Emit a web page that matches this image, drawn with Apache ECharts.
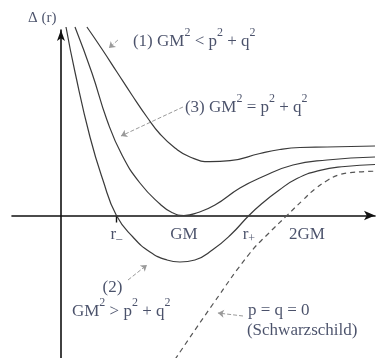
<!DOCTYPE html>
<html>
<head>
<meta charset="utf-8">
<script src="https://cdn.jsdelivr.net/npm/echarts@6/dist/echarts.min.js"></script>
<style>
  html, body { margin: 0; padding: 0; background: #fff; }
  #chart { width: 387px; height: 358px; }
</style>
</head>
<body>
<div id="chart"></div>
<script>
// Horizon function Δ(r); r in units of GM, Δ in arbitrary units.
const rMinus = 0.451;
const rPlus = 1.528;

// (1) GM² < p² + q² : no horizon
const curveNoHorizon = [
  [0.211, 1.885], [0.333, 1.665], [0.455, 1.435], [0.577, 1.205], [0.699, 0.985],
  [0.805, 0.815], [0.927, 0.675], [1.049, 0.585], [1.211, 0.538], [1.374, 0.548],
  [1.618, 0.62], [1.780, 0.66], [1.943, 0.68], [2.163, 0.685], [2.553, 0.695]
];
// (3) GM² = p² + q² : extremal, double root at GM
const curveExtremal = [
  [0.114, 1.885], [0.252, 1.425], [0.374, 0.955], [0.496, 0.605], [0.642, 0.325],
  [0.805, 0.115], [0.902, 0.03], [1.0, 0.0], [1.114, 0.03], [1.252, 0.105],
  [1.455, 0.275], [1.634, 0.385], [1.886, 0.505], [2.163, 0.555], [2.553, 0.585]
];
// (2) GM² > p² + q² : two horizons r− and r+
const curveTwoHorizons = [
  [0.041, 1.885], [0.114, 1.435], [0.236, 0.785], [0.341, 0.355], [rMinus, 0.0],
  [0.585, -0.215], [0.724, -0.365], [0.862, -0.445], [0.967, -0.465], [1.089, -0.445],
  [1.236, -0.34], [1.382, -0.19], [rPlus, 0.0], [1.634, 0.12], [1.764, 0.245],
  [1.919, 0.37], [2.106, 0.452], [2.309, 0.49], [2.553, 0.51]
];
// p = q = 0 (Schwarzschild)
const curveSchwarzschild = [
  [0.886, -1.515], [1.236, -0.885], [1.537, -0.375], [1.683, -0.185], [1.837, 0.0],
  [1.967, 0.155], [2.065, 0.265], [2.171, 0.355], [2.252, 0.403], [2.350, 0.428],
  [2.447, 0.437], [2.553, 0.443]
];

// Tick labels on the r axis
const tickValues = [rMinus, 1.0, rPlus, 2.0];
const tickLabels = ['r{sub|\u2013}', 'GM', 'r{sub|+}', '2GM'];

// Annotations: [r, Δ, text, anchor, font size]
const annotations = [
  [-0.268, 1.975, '\u0394 (r)', 'left', 15],
  [0.585, 1.735, '(1) GM{sup|2} < p{sup|2} + q{sup|2}', 'left', 17],
  [1.008, 1.075, '(3) GM{sup|2} = p{sup|2} + q{sup|2}', 'left', 17],
  [0.419, -0.725, '(2)', 'center', 17],
  [0.089, -0.965, 'GM{sup|2} > p{sup|2} + q{sup|2}', 'left', 17],
  [1.520, -0.955, 'p = q = 0', 'left', 17],
  [1.512, -1.15, '(Schwarzschild)', 'left', 17]
];

// Leader arrows from labels to curves
const leaders = [
  [[0.463, 1.755], [0.390, 1.675]],
  [[0.992, 1.085], [0.488, 0.795]],
  [[0.545, -0.645], [0.699, -0.495]],
  [[1.480, -1.005], [1.276, -0.975]]
];

const serif = 'Liberation Serif';
const textColor = '#1d2545';
const curveColor = '#3a3a3a';

const richStyles = {
  sup: { fontSize: 12, lineHeight: 12, verticalAlign: 'top', fontFamily: serif, color: textColor },
  sub: { fontSize: 12, lineHeight: 12, verticalAlign: 'bottom', fontFamily: serif, color: textColor }
};

function curveSeries(data, dashed) {
  return {
    type: 'line',
    data: data,
    smooth: 0.5,
    showSymbol: false,
    clip: false,
    silent: true,
    lineStyle: dashed
      ? { color: '#555', width: 1.2, type: [5, 4] }
      : { color: curveColor, width: 1.2 }
  };
}

const chart = echarts.init(document.getElementById('chart'), null, { renderer: 'canvas' });
chart.setOption({
  animation: false,
  backgroundColor: '#fff',
  grid: { left: 12, right: 12, top: 30, bottom: 0, containLabel: false, outerBoundsMode: 'none' },
  xAxis: {
    type: 'value',
    min: -0.398, max: 2.553,
    axisLine: {
      onZero: true, symbol: ['none', 'arrow'], symbolSize: [7, 11],
      lineStyle: { color: '#111', width: 1.6 }
    },
    axisTick: { show: true, customValues: [rMinus], length: 7, inside: false, lineStyle: { color: '#111', width: 1.4 } },
    axisLabel: { show: false },
    splitLine: { show: false }
  },
  yAxis: {
    type: 'value',
    min: -1.425, max: 1.855,
    axisLine: {
      onZero: true, symbol: ['none', 'arrow'], symbolSize: [6, 11],
      lineStyle: { color: '#111', width: 1.6 }
    },
    axisTick: { show: false },
    axisLabel: { show: false },
    splitLine: { show: false }
  },
  series: [
    curveSeries(curveNoHorizon, false),
    curveSeries(curveExtremal, false),
    curveSeries(curveTwoHorizons, false),
    curveSeries(curveSchwarzschild, true),
    {
      type: 'lines',
      coordinateSystem: 'cartesian2d',
      silent: true,
      symbol: ['none', 'arrow'],
      symbolSize: 6,
      lineStyle: { color: '#9a9a9a', width: 1, type: [4, 2], opacity: 1 },
      data: leaders.map(function (c) { return { coords: c }; })
    },
    {
      // r-axis tick labels, hung below the Δ = 0 line
      type: 'scatter',
      silent: true,
      symbolSize: 0,
      clip: false,
      data: tickValues.map(function (v, i) {
        return {
          value: [v, 0],
          label: {
            show: true,
            position: 'bottom',
            distance: 9,
            formatter: tickLabels[i],
            fontFamily: serif,
            fontSize: 17,
            lineHeight: 20,
            color: textColor,
            rich: richStyles
          }
        };
      })
    },
    {
      type: 'scatter',
      silent: true,
      symbolSize: 0,
      clip: false,
      data: annotations.map(function (a) {
        return {
          value: [a[0], a[1]],
          label: {
            show: true,
            position: a[3] === 'left' ? 'right' : 'inside',
            distance: 0,
            formatter: a[2],
            fontFamily: serif,
            fontSize: a[4],
            lineHeight: a[4] === 17 ? 30 : 18,
            color: textColor,
            rich: richStyles
          }
        };
      })
    }
  ]
});
</script>
</body>
</html>
